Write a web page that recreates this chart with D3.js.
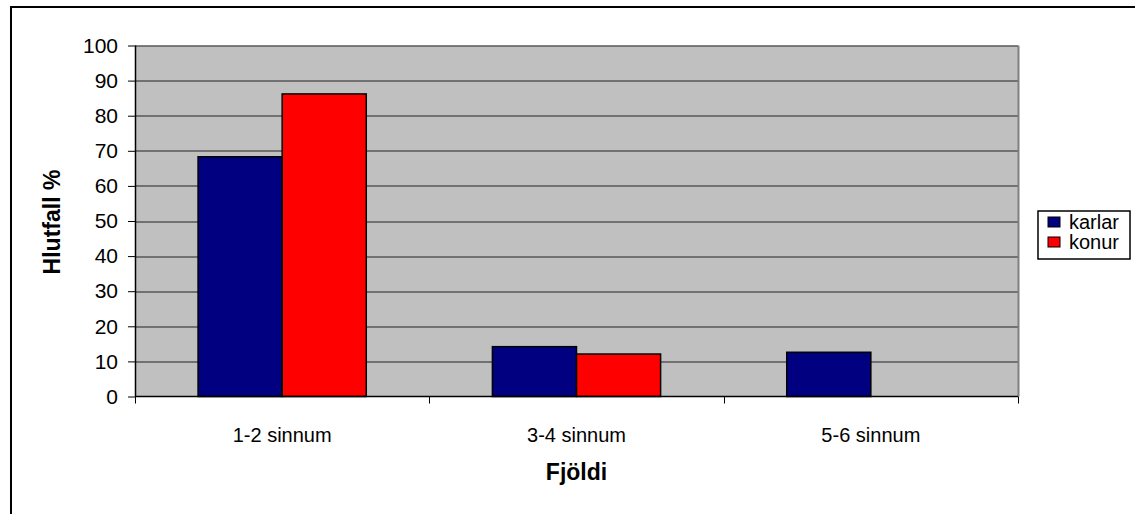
<!DOCTYPE html>
<html>
<head>
<meta charset="utf-8">
<script src="https://cdn.jsdelivr.net/npm/d3@7"></script>
<style>
  body { margin: 0; background: #fff; }
  text { font-family: "Liberation Sans", Arial, sans-serif; }
</style>
</head>
<body>
<div class="chart"></div>
<script>
// chart data
var categories = ["1-2 sinnum", "3-4 sinnum", "5-6 sinnum"];
var seriesNames = ["karlar", "konur"];
var karlar = [68.3, 14.2, 12.6];
var konur = [86.2, 12.1, 0];
var yTicks = [0, 10, 20, 30, 40, 50, 60, 70, 80, 90, 100];
var colors = ["#000080", "#ff0000"];

var svgWidth = 1135;
var svgHeight = 514;
var fontSize = 21;
var titleSize = 23;

var margin = { top: 45.5, left: 135, right: 117, bottom: 117.5 };
var width = svgWidth - margin.left - margin.right;
var height = svgHeight - margin.top - margin.bottom;

var svg = d3
  .select(".chart")
  .append("svg")
  .attr("width", svgWidth)
  .attr("height", svgHeight);

// outer chart frame (runs off right/bottom)
svg.append("path")
  .attr("d", "M11,520 L11,7 L1140,7")
  .attr("fill", "none")
  .attr("stroke", "#000")
  .attr("stroke-width", 2);

var chartGroup = svg
  .append("g")
  .attr("transform", `translate(${margin.left}, ${margin.top})`);

var xScale = d3.scaleBand()
  .domain(categories)
  .range([0, width])
  .paddingInner(0)
  .paddingOuter(0);

var inner = d3.scaleBand()
  .domain(seriesNames)
  .range([0, xScale.bandwidth()])
  .paddingInner(0)
  .paddingOuter(0.75);

var yScale = d3.scaleLinear()
  .domain([0, 100])
  .range([height, 0]);

// plot background
chartGroup.append("rect")
  .attr("width", width)
  .attr("height", height)
  .attr("fill", "#c0c0c0");

// gridlines
chartGroup.selectAll(".grid")
  .data(yTicks.slice(1))
  .enter()
  .append("line")
  .attr("x1", 0)
  .attr("x2", width)
  .attr("y1", d => Math.round(yScale(d)) + 0.5)
  .attr("y2", d => Math.round(yScale(d)) + 0.5)
  .attr("stroke", "#222")
  .attr("stroke-width", 1);

// right frame line
chartGroup.append("line")
  .attr("x1", width + 0.5).attr("x2", width + 0.5)
  .attr("y1", 0).attr("y2", height)
  .attr("stroke", "#808080")
  .attr("stroke-width", 2);

// bars
var rows = categories.map((c, i) => ({ cat: c, values: [karlar[i], konur[i]] }));

var groups = chartGroup.selectAll(".group")
  .data(rows)
  .enter()
  .append("g")
  .attr("transform", d => `translate(${xScale(d.cat)}, 0)`);

groups.selectAll("rect")
  .data(d => d.values.map((v, j) => ({ name: seriesNames[j], value: v, j: j })).filter(d => d.value > 0))
  .enter()
  .append("rect")
  .attr("x", d => inner(d.name))
  .attr("y", d => yScale(d.value))
  .attr("width", inner.bandwidth())
  .attr("height", d => height - yScale(d.value))
  .attr("fill", d => colors[d.j])
  .attr("stroke", "#000")
  .attr("stroke-width", 1.5);

// y axis
var yAxis = d3.axisLeft(yScale).tickValues(yTicks).tickSize(7).tickPadding(10);
var yG = chartGroup.append("g").call(yAxis);
yG.select(".domain").attr("stroke", "#000").attr("stroke-width", 1.5).attr("d", `M0.5,0V${height}`);
yG.selectAll(".tick line").attr("stroke", "#000");
yG.selectAll("text")
  .attr("font-size", fontSize)
  .attr("font-family", "Liberation Sans, Arial, sans-serif")
  .attr("fill", "#000");

// x axis
var xG = chartGroup.append("g").attr("transform", `translate(0, ${height})`);
xG.append("line")
  .attr("x1", 0).attr("x2", width)
  .attr("y1", 0).attr("y2", 0)
  .attr("stroke", "#000").attr("stroke-width", 1.5);
xG.selectAll(".xtick")
  .data(d3.range(categories.length + 1))
  .enter()
  .append("line")
  .attr("x1", i => Math.round(i * xScale.step()) + 0.5)
  .attr("x2", i => Math.round(i * xScale.step()) + 0.5)
  .attr("y1", 0).attr("y2", 7)
  .attr("stroke", "#000");
xG.selectAll(".xlabel")
  .data(categories)
  .enter()
  .append("text")
  .attr("x", d => xScale(d) + xScale.bandwidth() / 2)
  .attr("y", 45)
  .attr("text-anchor", "middle")
  .attr("font-size", 20)
  .text(d => d);

// axis titles
svg.append("text")
  .attr("x", margin.left + width / 2)
  .attr("y", 480)
  .attr("text-anchor", "middle")
  .attr("font-size", titleSize)
  .attr("font-weight", "bold")
  .text("Fjöldi");

svg.append("text")
  .attr("transform", "translate(60, 222) rotate(-90)")
  .attr("text-anchor", "middle")
  .attr("font-size", titleSize)
  .attr("font-weight", "bold")
  .text("Hlutfall %");

// legend
var legend = svg.append("g").attr("transform", "translate(1038, 211)");
legend.append("rect")
  .attr("width", 92)
  .attr("height", 48)
  .attr("fill", "#fff")
  .attr("stroke", "#000")
  .attr("stroke-width", 1.5);

var items = legend.selectAll(".item")
  .data(seriesNames)
  .enter()
  .append("g")
  .attr("transform", (d, i) => `translate(10, ${6 + i * 20})`);

items.append("rect")
  .attr("width", 12)
  .attr("height", 10)
  .attr("fill", (d, i) => colors[i])
  .attr("stroke", "#000")
  .attr("stroke-width", 1);

items.append("text")
  .attr("x", 21)
  .attr("y", 12)
  .attr("font-size", 20)
  .text(d => d);
</script>
</body>
</html>
